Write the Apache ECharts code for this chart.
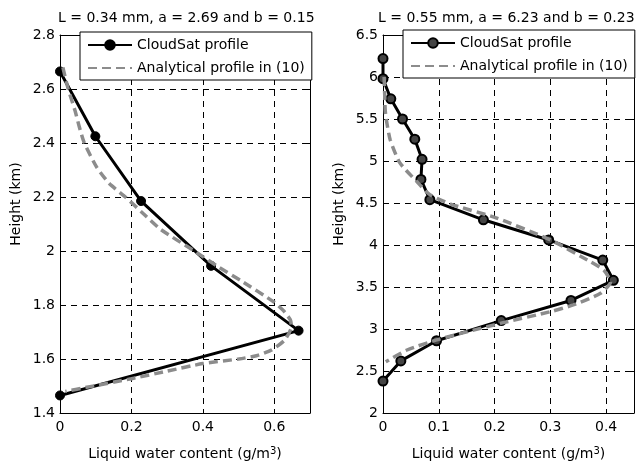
<!DOCTYPE html>
<html>
<head>
<meta charset="utf-8">
<script src="https://cdn.jsdelivr.net/npm/echarts@6/dist/echarts.min.js"></script>
<style>html,body{margin:0;padding:0;background:#fff;}#c{width:638px;height:463px;}</style>
</head>
<body>
<div id="c"></div>
<script>
// ---- Left panel data ----
const leftTitle = 'L = 0.34 mm, a = 2.69 and b = 0.15';
const leftHeight = [2.665, 2.425, 2.185, 1.945, 1.705, 1.465];
const leftLwc    = [0, 0.099, 0.227, 0.423, 0.668, 0];
const leftFitHeight = [2.68, 2.60, 2.52, 2.46, 2.40, 2.31, 2.25, 2.20, 2.14, 2.08, 2.00, 1.94, 1.89, 1.81, 1.78, 1.745, 1.72, 1.67, 1.633, 1.612, 1.60, 1.583, 1.555, 1.527, 1.494, 1.48];
const leftFitLwc    = [0.008, 0.023, 0.042, 0.054, 0.068, 0.103, 0.138, 0.183, 0.232, 0.282, 0.376, 0.445, 0.507, 0.60, 0.625, 0.645, 0.648, 0.629, 0.592, 0.55, 0.5, 0.4, 0.3, 0.2, 0.07, 0.015];

// ---- Right panel data ----
const rightTitle = 'L = 0.55 mm, a = 6.23 and b = 0.23';
const rightHeight = [6.22, 5.98, 5.74, 5.50, 5.26, 5.02, 4.78, 4.54, 4.30, 4.06, 3.82, 3.58, 3.34, 3.10, 2.86, 2.62, 2.38];
const rightLwc    = [0, 0, 0.014, 0.035, 0.057, 0.07, 0.068, 0.084, 0.18, 0.297, 0.394, 0.413, 0.337, 0.212, 0.096, 0.032, 0];
const rightFitHeight = [6.0, 5.8, 5.6, 5.45, 5.25, 4.98, 4.76, 4.6, 4.49, 4.32, 4.06, 3.80, 3.70, 3.56, 3.425, 3.286, 3.206, 3.07, 2.877, 2.75, 2.61];
const rightFitLwc    = [0.002, 0.003, 0.004, 0.007, 0.013, 0.03, 0.06, 0.084, 0.12, 0.204, 0.3, 0.372, 0.396, 0.408, 0.39, 0.341, 0.3, 0.212, 0.1, 0.043, 0.005];

// ---- Axis ticks ----
const leftX = {min: 0, max: 0.7, interval: 0.2};
const leftY = {min: 1.4, max: 2.8, interval: 0.2};
const rightX = {min: 0, max: 0.45, interval: 0.1};
const rightY = {min: 2, max: 6.5, interval: 0.5};

const seriesNames = ['CloudSat profile', 'Analytical profile in (10)'];
const yName = 'Height (km)';
const FONT = 'DejaVu Sans';

const zip = (xs, ys) => xs.map((x, i) => [x, ys[i]]);

function xAx(grid, r, bottom) {
  const a = {
    type: 'value', gridIndex: grid, min: r.min, max: r.max, interval: r.interval,
    position: bottom ? 'bottom' : 'top',
    axisLine: {show: true, onZero: false, lineStyle: {color: '#000', width: 1}},
    axisTick: {show: true, inside: true, length: 4, lineStyle: {color: '#000'}},
    axisLabel: {show: bottom, color: '#000', fontSize: 14, fontFamily: FONT, margin: 7, showMaxLabel: false},
    splitLine: {show: bottom, lineStyle: {color: '#000', width: 1, type: [6, 5]}}
  };
  if (bottom) {
    a.name = '{t|Liquid water content (g/m}{s|3}{t|)}';
    a.nameLocation = 'middle';
    a.nameGap = 33;
    a.nameTextStyle = {rich: {
      t: {fontSize: 14, fontFamily: FONT, color: '#000', verticalAlign: 'bottom'},
      s: {fontSize: 10, fontFamily: FONT, color: '#000', verticalAlign: 'top', padding: [0, 0, 5, 0]}
    }};
  }
  return a;
}
function yAx(grid, r, left) {
  const a = {
    type: 'value', gridIndex: grid, min: r.min, max: r.max, interval: r.interval,
    position: left ? 'left' : 'right',
    axisLine: {show: true, onZero: false, lineStyle: {color: '#000', width: 1}},
    axisTick: {show: true, inside: true, length: 4, lineStyle: {color: '#000'}},
    axisLabel: {show: left, color: '#000', fontSize: 14, fontFamily: FONT, margin: 5},
    splitLine: {show: left, lineStyle: {color: '#000', width: 1, type: [6, 5]}}
  };
  if (left) {
    a.name = yName;
    a.nameLocation = 'middle';
    a.nameGap = 37;
    a.nameTextStyle = {fontSize: 14, fontFamily: FONT, color: '#000', padding: [0, 0, 0, 40]};
  }
  return a;
}

function legendAt(left, top, names) {
  return {
    orient: 'vertical', left: left, top: top,
    data: names,
    formatter: n => n.trim(),
    itemWidth: 44, itemHeight: 12, itemGap: 9,
    padding: [6, 7, 5, 7],
    borderColor: '#000', borderWidth: 1, backgroundColor: '#fff',
    textStyle: {fontSize: 14, fontFamily: FONT, color: '#000'},
    selectedMode: false
  };
}

const option = {
  animation: false,
  backgroundColor: '#fff',
  textStyle: {fontFamily: FONT},
  title: [
    {text: leftTitle, left: 53, top: 6, textStyle: {fontSize: 14, fontWeight: 'normal', color: '#000', fontFamily: FONT}},
    {text: rightTitle, left: 373, top: 6, textStyle: {fontSize: 14, fontWeight: 'normal', color: '#000', fontFamily: FONT}}
  ],
  legend: [
    legendAt(80, 32, [seriesNames[0], seriesNames[1]]),
    legendAt(403, 30, [seriesNames[0] + ' ', seriesNames[1] + ' '])
  ],
  grid: [
    {left: 60, top: 35, width: 250, height: 378, outerBoundsMode: 'none', containLabel: false},
    {left: 383, top: 35, width: 251, height: 378, outerBoundsMode: 'none', containLabel: false}
  ],
  xAxis: [xAx(0, leftX, true), xAx(0, leftX, false), xAx(1, rightX, true), xAx(1, rightX, false)],
  yAxis: [yAx(0, leftY, true), yAx(0, leftY, false), yAx(1, rightY, true), yAx(1, rightY, false)],
  series: [
    {name: seriesNames[0], type: 'line', xAxisIndex: 0, yAxisIndex: 0, data: zip(leftLwc, leftHeight),
     lineStyle: {color: '#000', width: 3}, itemStyle: {color: '#000', borderColor: '#000', borderWidth: 1},
     symbol: 'circle', symbolSize: 9, z: 3},
    {name: seriesNames[1], type: 'line', xAxisIndex: 0, yAxisIndex: 0, data: zip(leftFitLwc, leftFitHeight),
     lineStyle: {color: '#8c8c8c', width: 3.5, type: [9, 5]}, itemStyle: {color: 'rgba(0,0,0,0)', borderWidth: 0},
     symbol: 'none', smooth: 0.2, z: 4},
    {name: seriesNames[0] + ' ', type: 'line', xAxisIndex: 2, yAxisIndex: 2, data: zip(rightLwc, rightHeight),
     lineStyle: {color: '#000', width: 3}, itemStyle: {color: '#444', borderColor: '#000', borderWidth: 2},
     symbol: 'circle', symbolSize: 9, z: 3},
    {name: seriesNames[1] + ' ', type: 'line', xAxisIndex: 2, yAxisIndex: 2, data: zip(rightFitLwc, rightFitHeight),
     lineStyle: {color: '#8c8c8c', width: 3.5, type: [9, 5]}, itemStyle: {color: 'rgba(0,0,0,0)', borderWidth: 0},
     symbol: 'none', smooth: 0.2, z: 4}
  ]
};

const chart = echarts.init(document.getElementById('c'), null, {renderer: 'canvas'});
chart.setOption(option);
</script>
</body>
</html>
